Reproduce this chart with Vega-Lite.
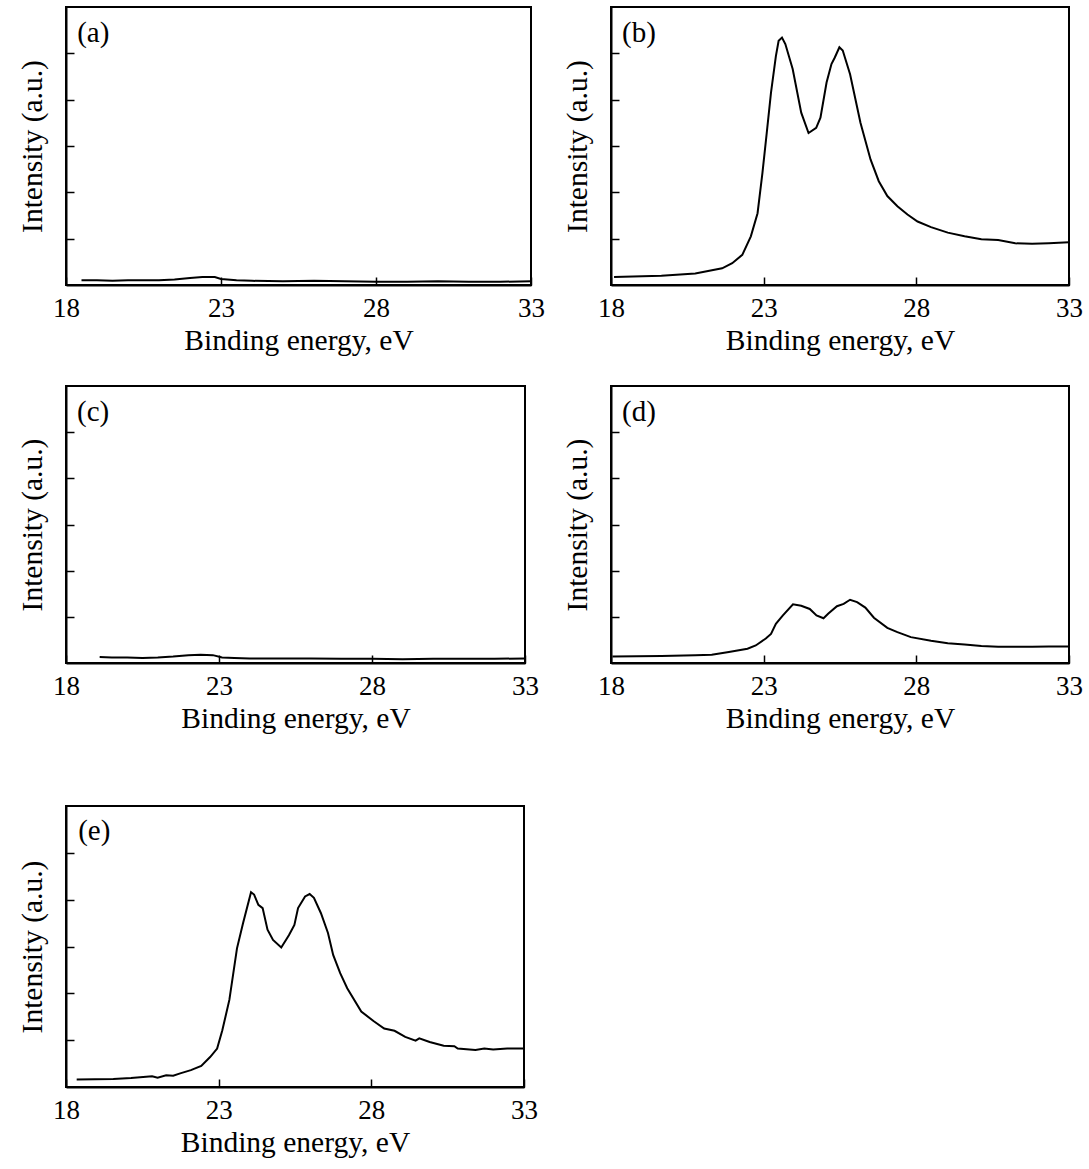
{
  "$schema": "https://vega.github.io/schema/vega-lite/v6.json",
  "padding": {"left": 16, "top": 6, "right": 5, "bottom": 5},
  "background": "white",
  "datasets": {
    "a": [
      {"energy": 18.5, "intensity": 0.1}, {"energy": 19, "intensity": 0.1}, {"energy": 19.5, "intensity": 0.09},
      {"energy": 20, "intensity": 0.1}, {"energy": 20.5, "intensity": 0.1}, {"energy": 21, "intensity": 0.1},
      {"energy": 21.5, "intensity": 0.12}, {"energy": 22, "intensity": 0.15}, {"energy": 22.4, "intensity": 0.17},
      {"energy": 22.8, "intensity": 0.17}, {"energy": 23, "intensity": 0.13}, {"energy": 23.5, "intensity": 0.1},
      {"energy": 24, "intensity": 0.09}, {"energy": 25, "intensity": 0.08}, {"energy": 26, "intensity": 0.09},
      {"energy": 27, "intensity": 0.08}, {"energy": 28, "intensity": 0.07}, {"energy": 29, "intensity": 0.07},
      {"energy": 30, "intensity": 0.08}, {"energy": 31, "intensity": 0.07}, {"energy": 32, "intensity": 0.07},
      {"energy": 33, "intensity": 0.08}
    ],
    "b": [
      {"energy": 18.1, "intensity": 0.17}, {"energy": 19.65, "intensity": 0.2}, {"energy": 20.76, "intensity": 0.25},
      {"energy": 21.64, "intensity": 0.36}, {"energy": 21.97, "intensity": 0.47}, {"energy": 22.3, "intensity": 0.65},
      {"energy": 22.58, "intensity": 1.05}, {"energy": 22.8, "intensity": 1.55}, {"energy": 22.96, "intensity": 2.42},
      {"energy": 23.1, "intensity": 3.28}, {"energy": 23.24, "intensity": 4.15}, {"energy": 23.4, "intensity": 4.94},
      {"energy": 23.49, "intensity": 5.27}, {"energy": 23.6, "intensity": 5.34}, {"energy": 23.71, "intensity": 5.2},
      {"energy": 23.95, "intensity": 4.66}, {"energy": 24.23, "intensity": 3.72}, {"energy": 24.47, "intensity": 3.28},
      {"energy": 24.72, "intensity": 3.39}, {"energy": 24.86, "intensity": 3.61}, {"energy": 25.06, "intensity": 4.37},
      {"energy": 25.22, "intensity": 4.77}, {"energy": 25.33, "intensity": 4.91}, {"energy": 25.48, "intensity": 5.13},
      {"energy": 25.59, "intensity": 5.06}, {"energy": 25.83, "intensity": 4.55}, {"energy": 26.17, "intensity": 3.5},
      {"energy": 26.5, "intensity": 2.71}, {"energy": 26.77, "intensity": 2.24}, {"energy": 27.05, "intensity": 1.92},
      {"energy": 27.38, "intensity": 1.7}, {"energy": 27.71, "intensity": 1.52}, {"energy": 28.04, "intensity": 1.37},
      {"energy": 28.48, "intensity": 1.25}, {"energy": 29.03, "intensity": 1.13}, {"energy": 29.58, "intensity": 1.05},
      {"energy": 30.13, "intensity": 0.99}, {"energy": 30.68, "intensity": 0.97}, {"energy": 31.24, "intensity": 0.9},
      {"energy": 31.79, "intensity": 0.89}, {"energy": 32.34, "intensity": 0.9}, {"energy": 33, "intensity": 0.92}
    ],
    "c": [
      {"energy": 19.1, "intensity": 0.13}, {"energy": 19.5, "intensity": 0.12}, {"energy": 20, "intensity": 0.12},
      {"energy": 20.5, "intensity": 0.11}, {"energy": 21, "intensity": 0.12}, {"energy": 21.5, "intensity": 0.14},
      {"energy": 22, "intensity": 0.17}, {"energy": 22.4, "intensity": 0.18}, {"energy": 22.8, "intensity": 0.17},
      {"energy": 23.1, "intensity": 0.12}, {"energy": 23.5, "intensity": 0.11}, {"energy": 24, "intensity": 0.1},
      {"energy": 25, "intensity": 0.1}, {"energy": 26, "intensity": 0.1}, {"energy": 27, "intensity": 0.09},
      {"energy": 28, "intensity": 0.09}, {"energy": 29, "intensity": 0.08}, {"energy": 30, "intensity": 0.09},
      {"energy": 31, "intensity": 0.09}, {"energy": 32, "intensity": 0.09}, {"energy": 33, "intensity": 0.1}
    ],
    "d": [
      {"energy": 18.05, "intensity": 0.14}, {"energy": 19.65, "intensity": 0.15}, {"energy": 20.76, "intensity": 0.17},
      {"energy": 21.3, "intensity": 0.18}, {"energy": 21.86, "intensity": 0.24}, {"energy": 22.47, "intensity": 0.31},
      {"energy": 22.74, "intensity": 0.38}, {"energy": 23.07, "intensity": 0.53}, {"energy": 23.24, "intensity": 0.63},
      {"energy": 23.4, "intensity": 0.85}, {"energy": 23.63, "intensity": 1.03}, {"energy": 23.96, "intensity": 1.27},
      {"energy": 24.23, "intensity": 1.24}, {"energy": 24.51, "intensity": 1.17}, {"energy": 24.73, "intensity": 1.03},
      {"energy": 24.96, "intensity": 0.97}, {"energy": 25.12, "intensity": 1.07}, {"energy": 25.4, "intensity": 1.23},
      {"energy": 25.62, "intensity": 1.28}, {"energy": 25.83, "intensity": 1.37}, {"energy": 26.06, "intensity": 1.32},
      {"energy": 26.33, "intensity": 1.2}, {"energy": 26.61, "intensity": 0.98}, {"energy": 27.05, "intensity": 0.76},
      {"energy": 27.38, "intensity": 0.67}, {"energy": 27.82, "intensity": 0.56}, {"energy": 28.48, "intensity": 0.48},
      {"energy": 29.03, "intensity": 0.43}, {"energy": 29.58, "intensity": 0.4}, {"energy": 30.13, "intensity": 0.37},
      {"energy": 30.68, "intensity": 0.35}, {"energy": 31.79, "intensity": 0.35}, {"energy": 32.34, "intensity": 0.36},
      {"energy": 33, "intensity": 0.36}
    ],
    "e": [
      {"energy": 18.35, "intensity": 0.16}, {"energy": 19.55, "intensity": 0.17}, {"energy": 20.13, "intensity": 0.19},
      {"energy": 20.82, "intensity": 0.23}, {"energy": 21.0, "intensity": 0.2}, {"energy": 21.28, "intensity": 0.25},
      {"energy": 21.51, "intensity": 0.24}, {"energy": 21.74, "intensity": 0.29}, {"energy": 22.09, "intensity": 0.36},
      {"energy": 22.43, "intensity": 0.45}, {"energy": 22.72, "intensity": 0.64}, {"energy": 22.95, "intensity": 0.82},
      {"energy": 23.12, "intensity": 1.21}, {"energy": 23.35, "intensity": 1.86}, {"energy": 23.6, "intensity": 2.96},
      {"energy": 23.8, "intensity": 3.5}, {"energy": 24.06, "intensity": 4.16}, {"energy": 24.16, "intensity": 4.11},
      {"energy": 24.3, "intensity": 3.89}, {"energy": 24.44, "intensity": 3.82}, {"energy": 24.6, "intensity": 3.36},
      {"energy": 24.78, "intensity": 3.14}, {"energy": 25.05, "intensity": 2.98}, {"energy": 25.3, "intensity": 3.24},
      {"energy": 25.48, "intensity": 3.46}, {"energy": 25.6, "intensity": 3.82}, {"energy": 25.83, "intensity": 4.07},
      {"energy": 25.98, "intensity": 4.12}, {"energy": 26.12, "intensity": 4.04}, {"energy": 26.35, "intensity": 3.71},
      {"energy": 26.58, "intensity": 3.29}, {"energy": 26.75, "intensity": 2.82}, {"energy": 26.98, "intensity": 2.43},
      {"energy": 27.21, "intensity": 2.11}, {"energy": 27.67, "intensity": 1.61}, {"energy": 28.07, "intensity": 1.41},
      {"energy": 28.42, "intensity": 1.25}, {"energy": 28.76, "intensity": 1.2}, {"energy": 29.11, "intensity": 1.07},
      {"energy": 29.45, "intensity": 0.99}, {"energy": 29.57, "intensity": 1.04}, {"energy": 29.91, "intensity": 0.96},
      {"energy": 30.37, "intensity": 0.88}, {"energy": 30.72, "intensity": 0.87}, {"energy": 30.83, "intensity": 0.82},
      {"energy": 31.41, "intensity": 0.79}, {"energy": 31.7, "intensity": 0.82}, {"energy": 31.99, "intensity": 0.8},
      {"energy": 32.45, "intensity": 0.82}, {"energy": 33, "intensity": 0.82}
    ]
  },
  "spacing": 71,
  "vconcat": [
    {
      "spacing": 29,
      "vconcat": [
        {
          "bounds": "flush",
          "spacing": 80,
          "hconcat": [
            {
              "width": 465, "height": 278,
              "layer": [
                {"data": {"name": "a"}, "mark": {"type": "line", "color": "black", "strokeWidth": 2},
                 "encoding": {
                   "x": {"field": "energy", "type": "quantitative", "scale": {"domain": [18, 33], "nice": false, "zero": false},
                         "axis": {"values": [18, 23, 28, 33], "title": "Binding energy, eV", "tickSize": -8, "labelPadding": 18, "titlePadding": 5, "labelFlush": false}},
                   "y": {"field": "intensity", "type": "quantitative", "scale": {"domain": [0, 6], "nice": false},
                         "axis": {"values": [1, 2, 3, 4, 5], "labels": false, "tickSize": -8, "title": "Intensity (a.u.)", "titlePadding": 18}}
                 }},
                {"data": {"values": [{"energy": 18.36, "intensity": 5.43, "label": "(a)"}]},
                 "mark": {"type": "text", "align": "left", "baseline": "middle"},
                 "encoding": {"x": {"field": "energy", "type": "quantitative"}, "y": {"field": "intensity", "type": "quantitative"}, "text": {"field": "label"}}}
              ]
            },
            {
              "width": 458, "height": 278,
              "layer": [
                {"data": {"name": "b"}, "mark": {"type": "line", "color": "black", "strokeWidth": 2},
                 "encoding": {
                   "x": {"field": "energy", "type": "quantitative", "scale": {"domain": [18, 33], "nice": false, "zero": false},
                         "axis": {"values": [18, 23, 28, 33], "title": "Binding energy, eV", "tickSize": -8, "labelPadding": 18, "titlePadding": 5, "labelFlush": false}},
                   "y": {"field": "intensity", "type": "quantitative", "scale": {"domain": [0, 6], "nice": false},
                         "axis": {"values": [1, 2, 3, 4, 5], "labels": false, "tickSize": -8, "title": "Intensity (a.u.)", "titlePadding": 18}}
                 }},
                {"data": {"values": [{"energy": 18.36, "intensity": 5.43, "label": "(b)"}]},
                 "mark": {"type": "text", "align": "left", "baseline": "middle"},
                 "encoding": {"x": {"field": "energy", "type": "quantitative"}, "y": {"field": "intensity", "type": "quantitative"}, "text": {"field": "label"}}}
              ]
            }
          ]
        },
        {
          "bounds": "flush",
          "spacing": 86,
          "hconcat": [
            {
              "width": 459, "height": 277,
              "layer": [
                {"data": {"name": "c"}, "mark": {"type": "line", "color": "black", "strokeWidth": 2},
                 "encoding": {
                   "x": {"field": "energy", "type": "quantitative", "scale": {"domain": [18, 33], "nice": false, "zero": false},
                         "axis": {"values": [18, 23, 28, 33], "title": "Binding energy, eV", "tickSize": -8, "labelPadding": 18, "titlePadding": 5, "labelFlush": false}},
                   "y": {"field": "intensity", "type": "quantitative", "scale": {"domain": [0, 6], "nice": false},
                         "axis": {"values": [1, 2, 3, 4, 5], "labels": false, "tickSize": -8, "title": "Intensity (a.u.)", "titlePadding": 18}}
                 }},
                {"data": {"values": [{"energy": 18.36, "intensity": 5.43, "label": "(c)"}]},
                 "mark": {"type": "text", "align": "left", "baseline": "middle"},
                 "encoding": {"x": {"field": "energy", "type": "quantitative"}, "y": {"field": "intensity", "type": "quantitative"}, "text": {"field": "label"}}}
              ]
            },
            {
              "width": 458, "height": 277,
              "layer": [
                {"data": {"name": "d"}, "mark": {"type": "line", "color": "black", "strokeWidth": 2},
                 "encoding": {
                   "x": {"field": "energy", "type": "quantitative", "scale": {"domain": [18, 33], "nice": false, "zero": false},
                         "axis": {"values": [18, 23, 28, 33], "title": "Binding energy, eV", "tickSize": -8, "labelPadding": 18, "titlePadding": 5, "labelFlush": false}},
                   "y": {"field": "intensity", "type": "quantitative", "scale": {"domain": [0, 6], "nice": false},
                         "axis": {"values": [1, 2, 3, 4, 5], "labels": false, "tickSize": -8, "title": "Intensity (a.u.)", "titlePadding": 18}}
                 }},
                {"data": {"values": [{"energy": 18.36, "intensity": 5.43, "label": "(d)"}]},
                 "mark": {"type": "text", "align": "left", "baseline": "middle"},
                 "encoding": {"x": {"field": "energy", "type": "quantitative"}, "y": {"field": "intensity", "type": "quantitative"}, "text": {"field": "label"}}}
              ]
            }
          ]
        }
      ]
    },
    {
      "width": 458, "height": 281,
      "layer": [
        {"data": {"name": "e"}, "mark": {"type": "line", "color": "black", "strokeWidth": 2},
         "encoding": {
           "x": {"field": "energy", "type": "quantitative", "scale": {"domain": [18, 33], "nice": false, "zero": false},
                 "axis": {"values": [18, 23, 28, 33], "title": "Binding energy, eV", "tickSize": -8, "labelPadding": 18, "titlePadding": 5, "labelFlush": false}},
           "y": {"field": "intensity", "type": "quantitative", "scale": {"domain": [0, 6], "nice": false},
                 "axis": {"values": [1, 2, 3, 4, 5], "labels": false, "tickSize": -8, "title": "Intensity (a.u.)", "titlePadding": 18}}
         }},
        {"data": {"values": [{"energy": 18.4, "intensity": 5.47, "label": "(e)"}]},
         "mark": {"type": "text", "align": "left", "baseline": "middle"},
         "encoding": {"x": {"field": "energy", "type": "quantitative"}, "y": {"field": "intensity", "type": "quantitative"}, "text": {"field": "label"}}}
      ]
    }
  ],
  "config": {
    "view": {"stroke": "black", "strokeWidth": 2},
    "axis": {
      "domainColor": "black", "domainWidth": 2, "tickColor": "black", "tickWidth": 1.5, "grid": false,
      "labelFont": "Liberation Serif", "labelFontSize": 27, "labelColor": "black",
      "titleFont": "Liberation Serif", "titleFontSize": 29.5, "titleFontWeight": "normal", "titleColor": "black"
    },
    "text": {"font": "Liberation Serif", "fontSize": 29, "color": "black"}
  }
}
